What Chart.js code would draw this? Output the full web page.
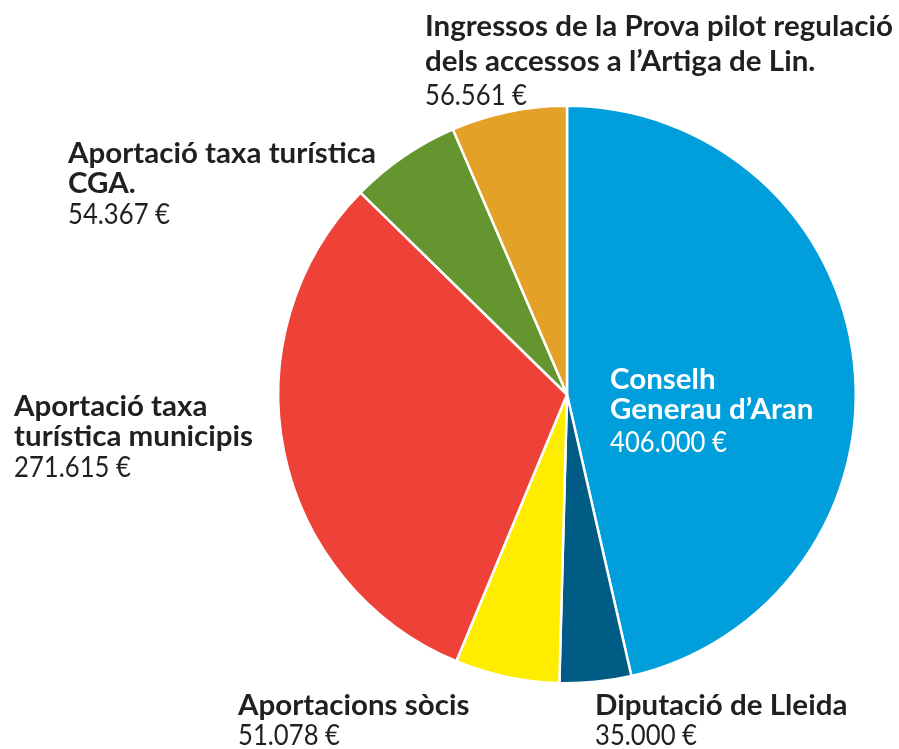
<!DOCTYPE html>
<html>
<head>
<meta charset="utf-8">
<script src="https://cdn.jsdelivr.net/npm/chart.js@4.4.1/dist/chart.umd.min.js"></script>
<style>
  html, body { margin: 0; padding: 0; background: #ffffff; }
  #wrap { width: 899px; height: 749px; position: relative; }
</style>
</head>
<body>
<div id="wrap"><canvas id="c" width="899" height="749"></canvas></div>
<script>
// ---- Data ----
const categories = [
  "Conselh Generau d’Aran",
  "Diputació de Lleida",
  "Aportacions sòcis",
  "Aportació taxa turística municipis",
  "Aportació taxa turística CGA.",
  "Ingressos de la Prova pilot regulació dels accessos a l’Artiga de Lin."
];
const categoryLines = [
  ["Conselh", "Generau d’Aran"],
  ["Diputació de Lleida"],
  ["Aportacions sòcis"],
  ["Aportació taxa", "turística municipis"],
  ["Aportació taxa turística", "CGA."],
  ["Ingressos de la Prova pilot regulació", "dels accessos a l’Artiga de Lin."]
];
const values = [406000, 35000, 51078, 271615, 54367, 56561];

// ---- Styles / layout ----
const colors = ["#009EDB", "#005B85", "#FFED00", "#EE4137", "#65952F", "#E3A127"];
const textColors = ["#ffffff", "#231F20", "#231F20", "#231F20", "#231F20", "#231F20"];
// x = left of text, b = baselines of each line (category lines then value line)
const labelLayout = [
  { x: 610, b: [389, 419, 452] },
  { x: 595, b: [715, 745] },
  { x: 238, b: [715, 745] },
  { x: 14,  b: [416, 446, 477] },
  { x: 68,  b: [163, 193, 224] },
  { x: 425, b: [36, 71, 105] }
];

function fmt(v) {
  return String(v).replace(/\B(?=(\d{3})+(?!\d))/g, ".") + " €";
}

const BOLD = "bold 28px Lato";
const REG = "28px Lato";

const labelPlugin = {
  id: "labels",
  afterDraw(chart) {
    const ctx = chart.ctx;
    ctx.save();
    ctx.font = BOLD;
    const boldScale = 468 / ctx.measureText(categoryLines[5][0]).width;
    ctx.font = REG;
    const regScale = 102 / ctx.measureText(fmt(values[5])).width;
    ctx.textBaseline = "alphabetic";
    ctx.textAlign = "left";
    categoryLines.forEach((lines, i) => {
      const L = labelLayout[i];
      const all = lines.map(t => ({ t, bold: true })).concat([{ t: fmt(values[i]), bold: false }]);
      all.forEach((ln, j) => {
        ctx.save();
        ctx.font = ln.bold ? BOLD : REG;
        ctx.fillStyle = textColors[i];
        ctx.translate(L.x, L.b[j]);
        ctx.scale(ln.bold ? boldScale : regScale, 1);
        ctx.fillText(ln.t, 0, 0);
        ctx.restore();
      });
    });
    ctx.restore();
  }
};

new Chart(document.getElementById("c"), {
  type: "pie",
  data: {
    labels: categories,
    datasets: [{
      data: values,
      backgroundColor: colors,
      borderColor: "#ffffff",
      borderWidth: 2.5
    }]
  },
  options: {
    responsive: false,
    animation: false,
    layout: { padding: { left: 277, right: 42, top: 104, bottom: 64 } },
    plugins: {
      legend: { display: false },
      tooltip: { enabled: false },
      title: { display: false }
    }
  },
  plugins: [labelPlugin]
});
</script>
</body>
</html>
